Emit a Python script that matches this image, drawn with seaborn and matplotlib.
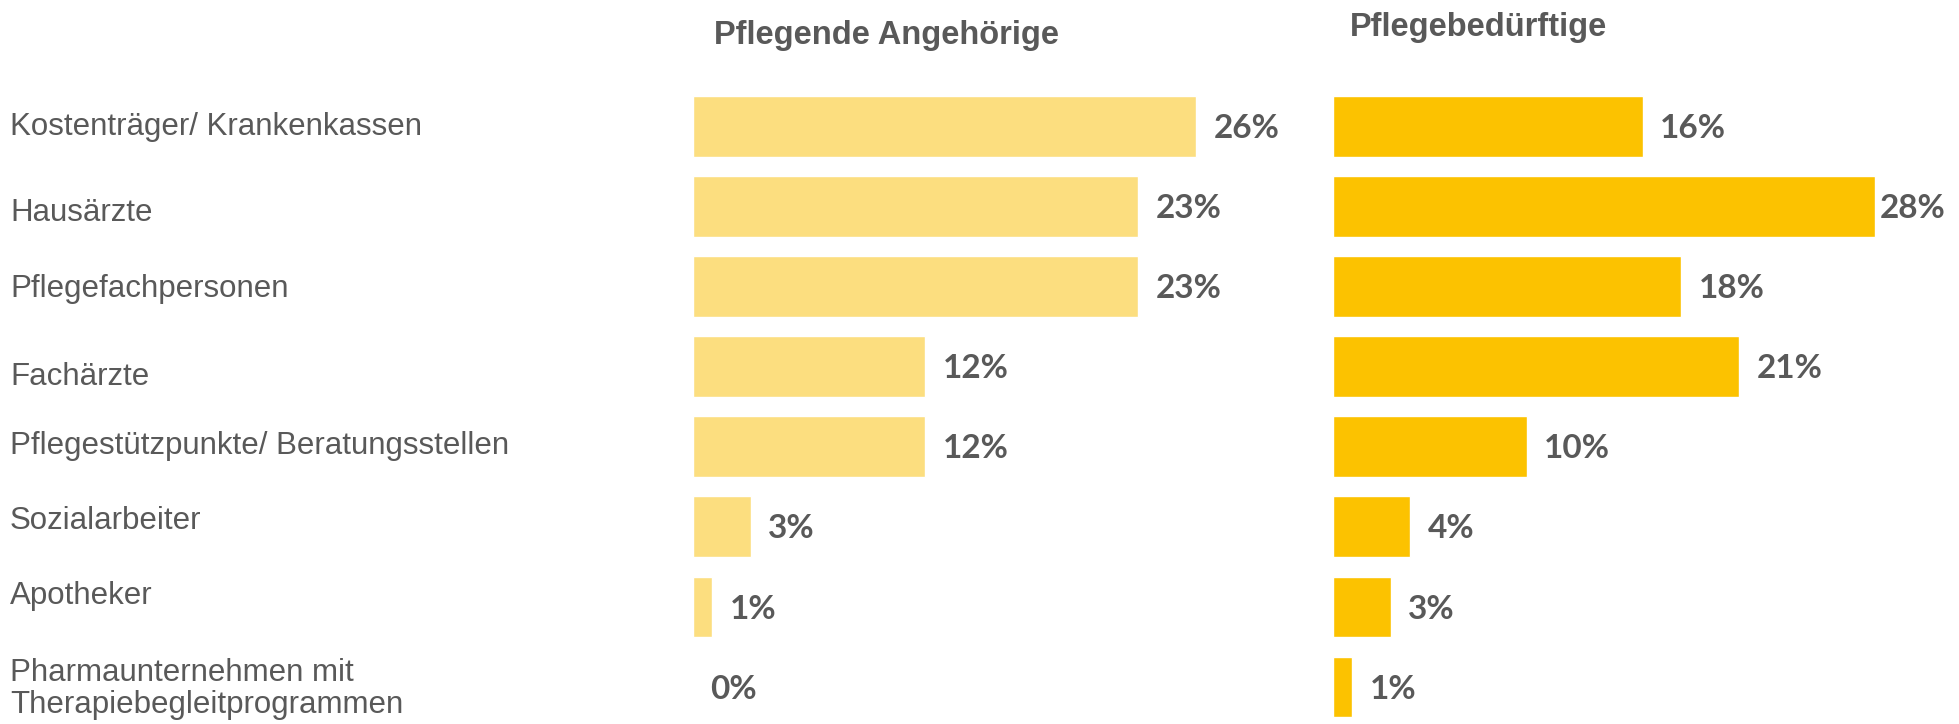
import pandas as pd
import matplotlib.pyplot as plt
import seaborn as sns
from matplotlib.transforms import blended_transform_factory

# ================= DATA =================
kategorien = [
    "Kostenträger/ Krankenkassen",
    "Hausärzte",
    "Pflegefachpersonen",
    "Fachärzte",
    "Pflegestützpunkte/ Beratungsstellen",
    "Sozialarbeiter",
    "Apotheker",
    "Pharmaunternehmen mit\nTherapiebegleitprogrammen",
]
angehoerige = [26, 23, 23, 12, 12, 3, 1, 0]
beduerftige = [16, 28, 18, 21, 10, 4, 3, 1]
titel_links = "Pflegende Angehörige"
titel_rechts = "Pflegebedürftige"

# ================= STYLE =================
GRAU = "#595959"
HELLGELB = "#FCDE7F"
GELB = "#FCC200"
W, H = 1959, 724
# the label boxes in the original are not evenly spaced (pixel nudges)
label_versatz = [0, -6, -2, -10, 1, 6, 11, -2]

sns.set_theme(style="white")
plt.rcParams['font.family'] = ['Liberation Sans', 'DejaVu Sans']

fig = plt.figure(figsize=(W / 100, H / 100), dpi=100)

# pixel layout: 19.35 px per percent, rows 80 px apart
px_pro_prozent = 19.35
xmax = 30
ax_w = xmax * px_pro_prozent / W
ax_h = (H - 86.5) / H
ax_l = fig.add_axes([693 / W, 0, ax_w, ax_h])
ax_r = fig.add_axes([1333 / W, 0, ax_w, ax_h])

df = pd.DataFrame({"Kategorie": kategorien,
                   "Angehoerige": angehoerige,
                   "Beduerftige": beduerftige})

for ax, spalte, farbe in [(ax_l, "Angehoerige", HELLGELB), (ax_r, "Beduerftige", GELB)]:
    sns.barplot(data=df, x=spalte, y="Kategorie", order=kategorien, orient="h",
                color=farbe, width=0.76, saturation=1, ax=ax)
    ax.set_xlim(0, xmax)
    ax.set_ylim(7.462, -0.5)
    werte = df[spalte].tolist()
    texte = ax.bar_label(ax.containers[0], labels=[f"{v}%" for v in werte],
                         padding=12.5, color=GRAU, fontsize=24, fontweight="bold",
                         family=["Lato", "DejaVu Sans"], clip_on=False)
    # the longest bar on the right has its label pulled in close (no room)
    for t, v in zip(texte, werte):
        pad = 3.5 if (ax is ax_r and v == max(werte)) else 12.5
        t.xyann = (pad, -1.5)
    ax.axis("off")

# category labels at the far left
trans = blended_transform_factory(fig.transFigure, ax_l.transData)
for i, (k, dy) in enumerate(zip(kategorien, label_versatz)):
    ax_l.annotate(k, xy=(10 / W, i), xycoords=trans, xytext=(0, dy),
                  textcoords="offset pixels", ha="left", va="center",
                  fontsize=22.5, color=GRAU, linespacing=1.12)

fig.text(887 / W, 1 - 44 / H, titel_links, ha="center", va="baseline",
         fontsize=23.5, fontweight="bold", color=GRAU)
fig.text(1479 / W, 1 - 36 / H, titel_rechts, ha="center", va="baseline",
         fontsize=23.5, fontweight="bold", color=GRAU)

plt.savefig("out.png", dpi=100)
plt.close()
